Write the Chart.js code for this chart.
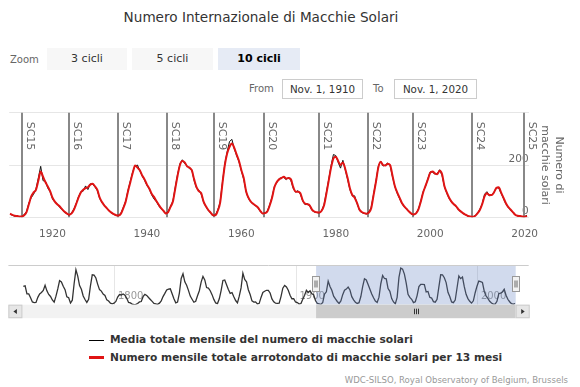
<!DOCTYPE html>
<html>
<head>
<meta charset="utf-8">
<script src="https://cdn.jsdelivr.net/npm/chart.js@4.4.1/dist/chart.umd.min.js"></script>
<style>
  html, body { margin: 0; padding: 0; background: #fff; }
  body { width: 580px; height: 387px; position: relative; overflow: hidden; font-family: "DejaVu Sans", sans-serif; }
  .abs { position: absolute; white-space: nowrap; }
  #title { left: 0; width: 522px; top: 8px; text-align: center; font-size: 13.6px; color: #333; line-height: 18px; }
  .lbl { color: #666; font-size: 10px; line-height: 12px; }
  .btn { top: 48px; height: 22px; line-height: 22px; text-align: center; font-size: 11px; color: #333; background: #f7f7f7; }
  .btn.sel { background: #e6ebf5; font-weight: bold; color: #000; }
  .date { top: 79px; height: 20px; line-height: 19px; border: 1px solid #ccc; box-sizing: border-box; text-align: center; font-size: 10.3px; color: #333; }
  canvas { position: absolute; left: 0; }
  .leg { left: 89px; font-size: 10.65px; font-weight: bold; color: #333; line-height: 14px; }
  .leg i { display: inline-block; width: 15px; vertical-align: middle; margin-right: 6px; }
  #credits { right: 12px; top: 375px; font-size: 8.55px; line-height: 10px; color: #999; }
</style>
</head>
<body>
<div id="title" class="abs">Numero Internazionale di Macchie Solari</div>
<div class="abs lbl" style="left:10px;top:54px">Zoom</div>
<div class="abs btn" style="left:47px;width:80px">3 cicli</div>
<div class="abs btn" style="left:132px;width:81px">5 cicli</div>
<div class="abs btn sel" style="left:218px;width:82px">10 cicli</div>
<div class="abs lbl" style="left:249px;top:83px">From</div>
<div class="abs date" style="left:282px;width:81px">Nov. 1, 1910</div>
<div class="abs lbl" style="left:373px;top:83px">To</div>
<div class="abs date" style="left:394px;width:83px">Nov. 1, 2020</div>

<canvas id="main" width="580" height="140" style="top:100px"></canvas>
<canvas id="nav" width="580" height="62" style="top:258px"></canvas>

<div class="abs leg" style="top:333px"><i style="border-top:1px solid #000"></i>Media totale mensile del numero di macchie solari</div>
<div class="abs leg" style="top:350.5px"><i style="border-top:3px solid #e01414"></i>Numero mensile totale arrotondato di macchie solari per 13 mesi</div>
<div id="credits" class="abs">WDC-SILSO, Royal Observatory of Belgium, Brussels</div>

<script>
// axis ticks and visible window
const xTicks = [1920, 1940, 1960, 1980, 2000, 2020];
const yTicks = [0, 200, 400];
const navTicks = [1800, 1900, 2000];
const viewStart = 1910.833;
const viewEnd = 2020.833;

// solar cycle minima
const cycleNames = ['SC15', 'SC16', 'SC17', 'SC18', 'SC19', 'SC20', 'SC21', 'SC22', 'SC23', 'SC24', 'SC25'];
const cycleStarts = [1913.6, 1923.6, 1933.8, 1944.2, 1954.3, 1964.9, 1976.5, 1986.8, 1996.4, 2008.9, 2019.9];

// half-year samples (Jan, Jul) starting 1911
const halfYearStart = 1911;
const smoothed = [
  14, 9, 6, 5, 3, 3, 8, 20, 50, 80, 95, 105, 140, 175, 155, 135, 118, 100, 75, 60,
  50, 42, 32, 22, 15, 10, 14, 28, 50, 75, 95, 105, 112, 115, 125, 128, 118, 105, 75, 58,
  45, 35, 25, 18, 12, 8, 7, 14, 35, 60, 100, 135, 170, 198, 190, 180, 160, 145, 125, 110,
  90, 78, 62, 48, 35, 25, 15, 20, 40, 60, 110, 160, 200, 215, 210, 195, 190, 180, 145, 115,
  100, 92, 60, 42, 28, 18, 8, 8, 25, 55, 130, 200, 245, 270, 282, 265, 240, 215, 180, 150,
  100, 75, 60, 52, 45, 38, 25, 15, 16, 22, 45, 75, 115, 135, 145, 150, 155, 148, 150, 145,
  115, 98, 98, 92, 65, 52, 50, 45, 28, 22, 19, 18, 25, 45, 90, 140, 190, 225, 232, 215,
  200, 210, 185, 150, 110, 85, 75, 55, 30, 20, 16, 14, 18, 35, 85, 135, 190, 212, 200, 198,
  205, 200, 160, 120, 95, 75, 55, 42, 32, 22, 14, 11, 15, 30, 60, 95, 120, 145, 170, 175,
  168, 165, 178, 165, 120, 95, 75, 60, 50, 42, 30, 22, 15, 10, 5, 3, 2, 5, 15, 28,
  50, 80, 92, 85, 85, 95, 112, 115, 95, 75, 55, 40, 30, 20, 10, 6, 5, 3, 2, 5
];
const monthlyMean = [
  12, 8, 4, 6, 2, 3, 10, 22, 55, 75, 88, 108, 150, 195, 140, 138, 112, 98, 70, 58,
  52, 38, 30, 20, 14, 8, 16, 30, 52, 78, 98, 100, 120, 106, 128, 126, 116, 102, 72, 55,
  46, 33, 24, 16, 11, 7, 8, 16, 38, 62, 104, 140, 175, 196, 200, 178, 158, 142, 122, 108,
  86, 70, 60, 44, 33, 24, 14, 22, 42, 62, 115, 165, 205, 220, 205, 198, 186, 182, 140, 112,
  104, 88, 58, 40, 26, 16, 6, 9, 28, 58, 135, 205, 252, 290, 298, 262, 236, 212, 178, 145,
  98, 72, 58, 50, 44, 36, 22, 14, 17, 24, 48, 78, 118, 132, 148, 152, 152, 144, 154, 140,
  110, 96, 102, 88, 62, 48, 52, 42, 26, 20, 18, 17, 26, 48, 95, 145, 198, 240, 236, 210,
  188, 218, 182, 145, 105, 82, 82, 52, 28, 18, 15, 13, 20, 38, 88, 138, 195, 215, 196, 200,
  208, 198, 155, 118, 92, 72, 52, 40, 30, 20, 12, 10, 16, 32, 62, 98, 118, 148, 174, 172,
  165, 168, 182, 160, 118, 92, 72, 58, 48, 40, 28, 20, 14, 9, 4, 3, 2, 6, 16, 30,
  52, 88, 98, 82, 84, 96, 114, 112, 92, 72, 52, 38, 28, 18, 9, 5, 4, 2, 3, 8
];

// yearly means for the navigator, 1749-2020
const yearlyStart = 1749;
const yearlyMean = [
  134.7,
  139.0, 79.5, 79.7, 51.2, 20.3, 16.0, 17.0, 54.0, 79.3, 90.0,
  104.8, 143.2, 102.0, 75.2, 60.7, 34.8, 19.0, 63.0, 116.3, 176.8,
  168.0, 136.0, 110.8, 58.0, 51.0, 11.7, 33.0, 154.2, 257.3, 209.8,
  141.3, 113.5, 64.2, 38.0, 17.0, 40.2, 138.2, 220.0, 218.2, 196.8,
  149.8, 111.0, 100.0, 78.2, 68.3, 35.5, 26.7, 10.7, 6.8, 11.3,
  24.2, 56.7, 75.0, 71.8, 79.2, 70.3, 46.8, 16.8, 13.5, 4.2,
  0.0, 2.3, 8.3, 20.3, 23.2, 59.0, 76.3, 68.3, 52.9, 38.5,
  24.2, 9.2, 6.3, 2.2, 11.4, 28.2, 59.9, 83.0, 108.5, 115.2,
  117.4, 80.8, 44.3, 13.4, 19.5, 85.8, 192.7, 227.3, 168.7, 143.0,
  105.5, 63.3, 40.3, 18.1, 25.1, 65.8, 102.7, 166.3, 208.3, 182.5,
  126.3, 122.0, 102.7, 74.1, 39.0, 12.7, 8.2, 43.4, 104.4, 178.3,
  182.2, 146.6, 112.1, 83.5, 89.2, 57.8, 30.7, 13.9, 62.8, 123.6,
  232.0, 185.3, 169.2, 110.1, 74.5, 28.3, 18.9, 20.7, 5.7, 10.0,
  53.7, 90.5, 99.0, 106.1, 105.8, 86.3, 42.4, 21.8, 11.2, 10.4,
  11.8, 59.5, 121.7, 142.0, 130.0, 106.6, 69.4, 43.8, 44.4, 20.2,
  15.7, 4.6, 8.5, 40.8, 70.1, 105.5, 90.1, 102.8, 80.9, 73.2,
  30.9, 9.5, 6.0, 2.4, 16.1, 79.0, 95.0, 173.6, 134.6, 105.7,
  62.7, 43.5, 23.7, 9.7, 27.9, 74.0, 106.5, 114.7, 129.7, 108.2,
  59.4, 35.1, 18.6, 9.2, 14.6, 60.2, 132.8, 190.6, 182.6, 148.0,
  113.0, 79.2, 50.8, 27.1, 16.1, 55.3, 154.3, 214.7, 193.0, 190.7,
  118.9, 98.3, 45.0, 20.1, 6.6, 54.2, 200.7, 269.3, 261.7, 225.1,
  159.0, 76.4, 53.4, 39.9, 15.0, 22.0, 66.8, 132.9, 150.0, 149.4,
  148.0, 94.4, 97.6, 54.1, 49.2, 22.5, 18.4, 39.3, 131.0, 220.1,
  218.9, 198.9, 162.4, 91.0, 60.5, 20.6, 14.8, 33.9, 123.0, 211.1,
  191.8, 203.3, 133.0, 76.1, 44.9, 25.1, 11.6, 28.9, 88.3, 136.3,
  173.9, 170.4, 163.6, 99.3, 65.3, 45.8, 24.7, 12.6, 4.2, 4.8,
  24.9, 80.8, 84.5, 94.0, 113.3, 69.8, 39.8, 21.7, 7.0, 3.6,
  8.8
];

Chart.defaults.font.family = '"DejaVu Sans", sans-serif';

const halfYearPoints = arr => arr.map((v, i) => ({ x: halfYearStart + i / 2, y: v }));

// vertical cycle lines + rotated labels
const cyclePlugin = {
  id: 'cycles',
  beforeDatasetsDraw(chart) {
    const { ctx, chartArea: a, scales: { x } } = chart;
    ctx.save();
    cycleStarts.forEach((t, i) => {
      const px = Math.round(x.getPixelForValue(t));
      ctx.strokeStyle = '#888';
      ctx.lineWidth = 2;
      ctx.beginPath();
      ctx.moveTo(px, a.top);
      ctx.lineTo(px, a.bottom);
      ctx.stroke();
      ctx.save();
      ctx.translate(px + 4.5, a.top + 9);
      ctx.rotate(Math.PI / 2);
      ctx.fillStyle = '#666';
      ctx.font = '11px "DejaVu Sans"';
      ctx.fillText(cycleNames[i], 0, 0);
      ctx.restore();
    });
    ctx.restore();
  }
};

new Chart(document.getElementById('main'), {
  type: 'line',
  data: {
    datasets: [{
      data: halfYearPoints(smoothed),
      borderColor: '#e01414',
      borderWidth: 2,
      pointRadius: 0,
      cubicInterpolationMode: 'monotone',
      order: 0
    }, {
      data: halfYearPoints(monthlyMean),
      borderColor: '#111',
      borderWidth: 1,
      pointRadius: 0,
      order: 1
    }]
  },
  options: {
    responsive: false,
    animation: false,
    layout: { padding: { left: 9.2, top: 12.7, right: 0, bottom: 0 } },
    plugins: { legend: { display: false }, tooltip: { enabled: false } },
    scales: {
      x: {
        type: 'linear',
        min: viewStart,
        max: viewEnd,
        afterBuildTicks: s => { s.ticks = xTicks.map(v => ({ value: v })); },
        afterFit: s => { s.height = 22.7; },
        grid: { display: false },
        border: { display: false },
        ticks: { color: '#666', font: { size: 10.5 }, padding: 3, autoSkip: false, maxRotation: 0, callback: v => String(v) }
      },
      y: {
        position: 'right',
        min: 0,
        max: 400,
        afterBuildTicks: s => { s.ticks = yTicks.map(v => ({ value: v })); },
        afterFit: s => { s.width = 51.4; },
        grid: { color: '#e6e6e6', drawTicks: false },
        border: { display: false },
        ticks: { mirror: true, padding: 0, labelOffset: -6, color: '#666', font: { size: 10.5 }, callback: v => (v === 400 ? '' : String(v)) },
        title: {
          display: true,
          text: ['Numero di', 'macchie solari'],
          color: '#666',
          font: { size: 11, lineHeight: 1.3 },
          padding: { top: 13.8, bottom: 0 }
        }
      }
    }
  },
  plugins: [cyclePlugin]
});

// navigator: tick labels inside the plot, selection mask, handles and scrollbar
const navPlugin = {
  id: 'navigatorUi',
  beforeDatasetsDraw(chart) {
    const { ctx, chartArea: a, scales: { x } } = chart;
    ctx.save();
    ctx.fillStyle = '#999';
    ctx.font = '10px "DejaVu Sans"';
    ctx.textBaseline = 'middle';
    x.ticks.forEach(t => {
      ctx.fillText(String(t.value), x.getPixelForValue(t.value) + 3, a.bottom - 8.5);
    });
    ctx.restore();
  },
  afterDatasetsDraw(chart) {
    const { ctx, chartArea: a, scales: { x } } = chart;
    const x0 = x.getPixelForValue(viewStart);
    const x1 = x.getPixelForValue(viewEnd);
    ctx.save();
    ctx.fillStyle = 'rgba(102,133,194,0.3)';
    ctx.fillRect(x0, a.top, x1 - x0, a.bottom - a.top);

    ctx.strokeStyle = '#cccccc';
    ctx.lineWidth = 1;
    ctx.beginPath();
    ctx.moveTo(a.left - 14, Math.round(a.top) + 0.5);
    ctx.lineTo(a.right + 13, Math.round(a.top) + 0.5);
    ctx.stroke();

    // scrollbar
    const sy = a.bottom, sh = 13.5;
    ctx.fillStyle = '#f2f2f2';
    ctx.fillRect(a.left, sy, a.right - a.left, sh);
    ctx.fillStyle = '#cccccc';
    ctx.fillRect(x0, sy, x1 - x0, sh);
    ctx.strokeStyle = '#333';
    const gx = Math.round((x0 + x1) / 2);
    for (let k = -2; k <= 2; k += 2) {
      ctx.beginPath();
      ctx.moveTo(gx + k + 0.5, sy + 4);
      ctx.lineTo(gx + k + 0.5, sy + 9.5);
      ctx.stroke();
    }
    // arrow buttons
    [[a.left - 14, -1], [a.right, 1]].forEach(([bx, dir]) => {
      ctx.fillStyle = '#e6e6e6';
      ctx.fillRect(bx, sy, 14, sh);
      ctx.strokeStyle = '#cccccc';
      ctx.strokeRect(bx + 0.5, sy + 0.5, 13, sh - 1);
      const cx = bx + 7, cy = sy + sh / 2;
      ctx.fillStyle = '#333';
      ctx.beginPath();
      ctx.moveTo(cx + 2 * dir, cy);
      ctx.lineTo(cx - 1.5 * dir, cy - 2.5);
      ctx.lineTo(cx - 1.5 * dir, cy + 2.5);
      ctx.closePath();
      ctx.fill();
    });
    // handles
    [x0, x1].forEach(hx => {
      const rx = Math.round(hx) - 3.5, ry = Math.round(a.top + 11) + 0.5;
      ctx.fillStyle = '#f2f2f2';
      ctx.fillRect(rx, ry, 7, 15);
      ctx.strokeStyle = '#999';
      ctx.strokeRect(rx, ry, 7, 15);
      ctx.strokeStyle = '#666';
      ctx.beginPath();
      ctx.moveTo(rx + 2.5, ry + 4); ctx.lineTo(rx + 2.5, ry + 11);
      ctx.moveTo(rx + 4.5, ry + 4); ctx.lineTo(rx + 4.5, ry + 11);
      ctx.stroke();
    });
    ctx.restore();
  }
};

new Chart(document.getElementById('nav'), {
  type: 'line',
  data: {
    datasets: [{
      data: yearlyMean.map((v, i) => ({ x: yearlyStart + i + 0.5, y: v })),
      borderColor: '#333',
      borderWidth: 1.3,
      pointRadius: 0
    }]
  },
  options: {
    responsive: false,
    animation: false,
    layout: { padding: { left: 22.4, right: 64.3, top: 7.3, bottom: 15.3 } },
    plugins: { legend: { display: false }, tooltip: { enabled: false } },
    scales: {
      x: {
        type: 'linear',
        min: yearlyStart,
        max: viewEnd,
        afterBuildTicks: s => { s.ticks = navTicks.map(v => ({ value: v })); },
        afterFit: s => { s.height = 0; },
        grid: { color: '#e6e6e6', drawTicks: false },
        border: { display: false },
        ticks: { display: false }
      },
      y: { display: false, min: 0, max: 290 }
    }
  },
  plugins: [navPlugin]
});
</script>
</body>
</html>
